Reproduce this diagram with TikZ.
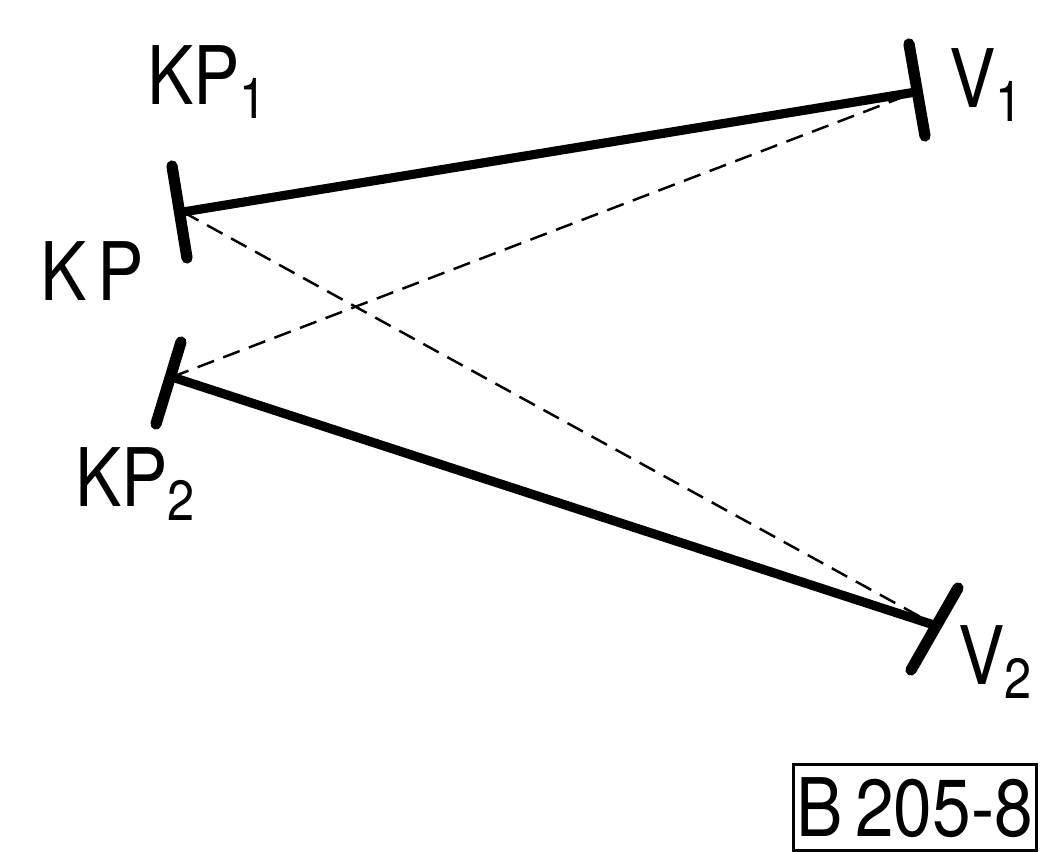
\documentclass[tikz,border=0pt]{standalone}
\usepackage{fontspec}
\setmainfont{TeX Gyre Heros}[FakeStretch=0.86]
\usepackage{tikz}
\usetikzlibrary{positioning}

\tikzset{
    beam/.style={line width=2.6pt},
    ray/.style={line width=0.7pt, dash pattern=on 5pt off 2.8pt},
    mirror/.style={line width=3.2pt, line cap=round},
    lbl/.style={font=\fontsize{23}{27}\selectfont, inner sep=0pt}
}

\begin{document}
\begin{tikzpicture}[x=0.1mm, y=-0.1mm]
    \useasboundingbox (0,0) rectangle (1044,852);

    % Points
    \coordinate (kp) at (183,212);
    \coordinate (kp2) at (172,377);
    \coordinate (v1) at (916,92);
    \coordinate (v2) at (937,626);

    % Mirrors
    \coordinate (kpa) at (172,166);
    \coordinate (kpb) at (187,258);
    \coordinate (kp2a) at (181,342);
    \coordinate (kp2b) at (156,424);
    \coordinate (v1a) at (909,44);
    \coordinate (v1b) at (925,136);
    \coordinate (v2a) at (958,588);
    \coordinate (v2b) at (911,670);
    \draw[mirror] (kpa) -- (kpb);
    \draw[mirror] (kp2a) -- (kp2b);
    \draw[mirror] (v1a) -- (v1b);
    \draw[mirror] (v2a) -- (v2b);

    % Main connections
    \draw[beam] (kp) -- (v1);
    \draw[beam] (kp2) -- (v2);

    % Dashed connections
    \draw[ray] (kp) -- (v2);
    \draw[ray] (kp2) -- (v1);

    % Labels
    \node (lkp1) [lbl] at (208,82) {KP\textsubscript{1}};
    \node (lkp) [lbl] at (92,271) {K\kern3pt P};
    \node (lkp2) [lbl] at (136,484) {KP\textsubscript{2}};
    \node (lv1) [lbl] at (987,85) {V\textsubscript{1}};
    \node (lv2) [lbl] at (996,662) {V\textsubscript{2}};
    \node (code) [lbl, draw, line width=0.8pt, minimum width=24.2mm, minimum height=8.6mm, inner xsep=1pt, anchor=north east] at (1038,763) {\spaceskip=0.15em B 205-8};
\end{tikzpicture}
\end{document}
